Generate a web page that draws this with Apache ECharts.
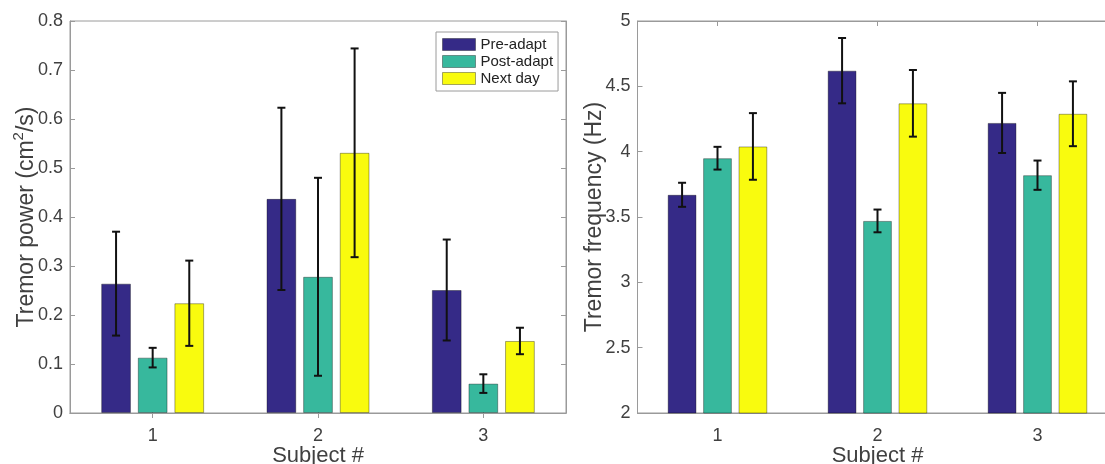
<!DOCTYPE html>
<html>
<head>
<meta charset="utf-8">
<script src="https://cdn.jsdelivr.net/npm/echarts@6/dist/echarts.min.js"></script>
<style>
  html, body { margin: 0; padding: 0; background: #fff; }
  #chart { width: 1105px; height: 464px; }
</style>
</head>
<body>
<div id="chart"></div>
<script>
// Subjects on the x axis
const subjects = ['1', '2', '3'];
const conditions = ['Pre-adapt', 'Post-adapt', 'Next day'];

// Tremor power (cm^2/s): means and error half-widths
const powerPre = [0.264, 0.437, 0.251];
const powerPreErr = [0.106, 0.186, 0.103];
const powerPost = [0.113, 0.278, 0.060];
const powerPostErr = [0.020, 0.202, 0.019];
const powerNext = [0.224, 0.531, 0.147];
const powerNextErr = [0.087, 0.213, 0.027];

// Tremor frequency (Hz): means and error half-widths
const freqPre = [3.67, 4.62, 4.22];
const freqPreErr = [0.092, 0.25, 0.23];
const freqPost = [3.95, 3.47, 3.82];
const freqPostErr = [0.087, 0.087, 0.112];
const freqNext = [4.04, 4.37, 4.29];
const freqNextErr = [0.255, 0.255, 0.248];

const colors = ['#352a87', '#37b89d', '#f9fb0e'];
const axisGray = '#9a9a9a';
const textGray = '#404040';
const FONT = 'Liberation Sans, Arial, sans-serif';

const BAR_FRAC = 0.18;     // bar width as a share of the category band
const GAP_FRAC = 0.23;     // gap between bars as a share of bar width
const STEP = BAR_FRAC * (1 + GAP_FRAC);

function errorRows(means, errs, k) {
  return means.map((m, i) => [i, m - errs[i], m + errs[i], k]);
}

function renderErr(params, api) {
  const cat = api.value(0);
  const lo = api.coord([cat, api.value(1)]);
  const hi = api.coord([cat, api.value(2)]);
  const band = api.size([1, 0])[0];
  const x = lo[0] + (api.value(3) - 1) * band * STEP;
  const cap = 4;
  const style = { stroke: '#111', lineWidth: 2 };
  return {
    type: 'group',
    children: [
      { type: 'line', shape: { x1: x, y1: lo[1], x2: x, y2: hi[1] }, style },
      { type: 'line', shape: { x1: x - cap, y1: lo[1], x2: x + cap, y2: lo[1] }, style },
      { type: 'line', shape: { x1: x - cap, y1: hi[1], x2: x + cap, y2: hi[1] }, style }
    ]
  };
}

function barSeries(name, data, color, gi) {
  return {
    name, type: 'bar', data,
    xAxisIndex: gi, yAxisIndex: gi,
    barWidth: (BAR_FRAC * 100) + '%', barGap: (GAP_FRAC * 100) + '%',
    itemStyle: { color, borderColor: 'rgba(0,0,0,0.35)', borderWidth: 1 },
    emphasis: { disabled: true },
    animation: false
  };
}

function errSeries(rows, gi) {
  return {
    type: 'custom', renderItem: renderErr, data: rows,
    xAxisIndex: gi, yAxisIndex: gi, z: 5, animation: false, silent: true
  };
}

function catAxis(gi, pos, showLabels, nameText) {
  return {
    type: 'category', data: subjects, gridIndex: gi, position: pos,
    axisLine: { show: true, lineStyle: { color: axisGray, width: 1 } },
    axisTick: { show: true, inside: true, alignWithLabel: true, length: 5, lineStyle: { color: axisGray } },
    axisLabel: { show: showLabels, color: textGray, fontSize: 18, fontFamily: FONT, margin: 14 },
    name: nameText || '', nameLocation: 'middle', nameGap: 32, nameMoveOverlap: false,
    nameTextStyle: { color: textGray, fontSize: 22, fontFamily: FONT }
  };
}

function valAxis(gi, pos, min, max, interval, showLabels, name, nameGap, rich) {
  return {
    type: 'value', gridIndex: gi, position: pos, min, max, interval,
    splitLine: { show: false },
    axisLine: { show: true, lineStyle: { color: axisGray, width: 1 } },
    axisTick: { show: true, inside: true, length: 5, lineStyle: { color: axisGray } },
    axisLabel: { show: showLabels, color: textGray, fontSize: 18, fontFamily: FONT, margin: 7 },
    name: name || '', nameLocation: 'middle', nameGap: nameGap || 0, nameRotate: 90,
    nameMoveOverlap: false,
    nameTextStyle: { color: textGray, fontSize: 23, fontFamily: FONT, rich: rich || {} }
  };
}

const supRich = {
  a: { fontSize: 23, fontFamily: FONT, color: textGray, lineHeight: 27, verticalAlign: 'bottom' },
  s: { fontSize: 15, fontFamily: FONT, color: textGray, lineHeight: 27, verticalAlign: 'top' }
};

const chart = echarts.init(document.getElementById('chart'), null, { renderer: 'canvas' });
chart.setOption({
  backgroundColor: '#fff',
  animation: false,
  legend: {
    data: conditions,
    orient: 'vertical',
    left: 436, top: 32,
    icon: 'rect',
    itemWidth: 33, itemHeight: 12, itemGap: 0,
    padding: [4, 5, 4, 6],
    backgroundColor: '#fff',
    borderColor: axisGray, borderWidth: 1, borderRadius: 0,
    textStyle: { color: '#222', fontSize: 15, fontFamily: FONT, lineHeight: 17 },
    itemStyle: { borderColor: 'rgba(0,0,0,0.35)', borderWidth: 1 },
    selectedMode: false
  },
  grid: [
    { left: 70, right: 539, top: 21, bottom: 51, outerBoundsMode: 'none', containLabel: false,
      show: true, borderColor: axisGray, borderWidth: 1, backgroundColor: 'transparent' },
    { left: 637.5, right: -12.5, top: 21, bottom: 51, outerBoundsMode: 'none', containLabel: false,
      show: true, borderColor: axisGray, borderWidth: 1, backgroundColor: 'transparent' }
  ],
  xAxis: [
    catAxis(0, 'bottom', true, 'Subject #'),
    catAxis(1, 'bottom', true, 'Subject #'),
    catAxis(0, 'top', false),
    catAxis(1, 'top', false)
  ],
  yAxis: [
    valAxis(0, 'left', 0, 0.8, 0.1, true, '{a|Tremor power (cm}{s|2}{a|/s)}', 32, supRich),
    valAxis(1, 'left', 2, 5, 0.5, true, 'Tremor frequency (Hz)', 31),
    valAxis(0, 'right', 0, 0.8, 0.1, false),
    valAxis(1, 'right', 2, 5, 0.5, false)
  ],
  series: [
    barSeries(conditions[0], powerPre, colors[0], 0),
    barSeries(conditions[1], powerPost, colors[1], 0),
    barSeries(conditions[2], powerNext, colors[2], 0),
    barSeries(conditions[0], freqPre, colors[0], 1),
    barSeries(conditions[1], freqPost, colors[1], 1),
    barSeries(conditions[2], freqNext, colors[2], 1),
    errSeries([].concat(
      errorRows(powerPre, powerPreErr, 0),
      errorRows(powerPost, powerPostErr, 1),
      errorRows(powerNext, powerNextErr, 2)), 0),
    errSeries([].concat(
      errorRows(freqPre, freqPreErr, 0),
      errorRows(freqPost, freqPostErr, 1),
      errorRows(freqNext, freqNextErr, 2)), 1)
  ]
});
</script>
</body>
</html>
